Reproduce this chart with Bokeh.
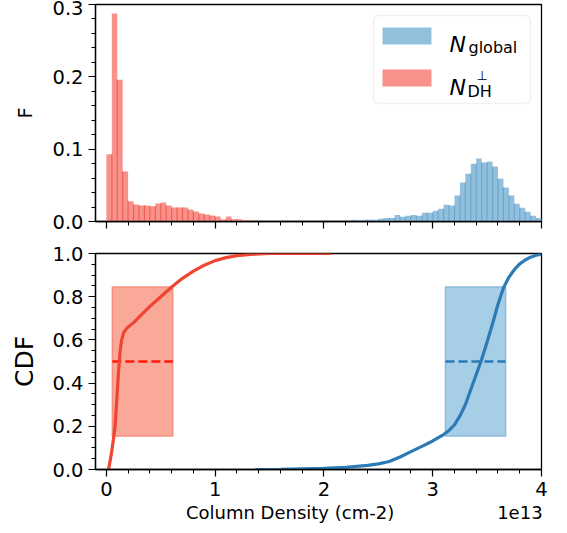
import numpy as np
from bokeh.plotting import figure
from bokeh.layouts import column
from bokeh.models import Range1d, FixedTicker, PrintfTickFormatter, Label, BoxAnnotation
from bokeh.embed import file_html
from bokeh.resources import INLINE

# ---------------- data (column density in units of 1e13 cm-2) ----------------
BIN_W = 0.05
red_start = 0.00
red_F = [0.093, 0.2875, 0.196, 0.069, 0.028, 0.0236, 0.022, 0.022, 0.021, 0.025,
         0.0264, 0.022, 0.0194, 0.0194, 0.0194, 0.0167, 0.0139, 0.011, 0.0097, 0.0083,
         0.007, 0.0028, 0.007, 0.003, 0.003, 0.0014, 0.0014, 0.0014]
blue_start = 2.15
blue_F = [0.001, 0.0014, 0.0023, 0.0014, 0.0023, 0.0023, 0.0023, 0.0037, 0.005, 0.005,
          0.009, 0.0065, 0.008, 0.009, 0.008, 0.012, 0.012, 0.015, 0.0176, 0.023,
          0.022, 0.036, 0.054, 0.066, 0.080, 0.087, 0.0815, 0.083, 0.076, 0.059,
          0.047, 0.036, 0.0245, 0.019, 0.0134, 0.008, 0.005]

red_cdf_x = [0.02, 0.045, 0.065, 0.08, 0.095, 0.11, 0.125, 0.14, 0.16, 0.19, 0.25, 0.3,
             0.4, 0.5, 0.6, 0.7, 0.8, 0.9, 1.0, 1.1, 1.2, 1.35, 1.5, 2.07]
red_cdf_y = [0.0, 0.07, 0.14, 0.2, 0.32, 0.44, 0.54, 0.6, 0.635, 0.655, 0.68, 0.705,
             0.755, 0.8, 0.845, 0.885, 0.918, 0.946, 0.967, 0.981, 0.99, 0.997, 1.0, 1.0]
blue_cdf_x = [1.37, 1.6, 1.8, 2.0, 2.2, 2.4, 2.5, 2.6, 2.7, 2.8, 2.9, 3.0, 3.1, 3.15,
              3.2, 3.25, 3.3, 3.35, 3.4, 3.45, 3.5, 3.55, 3.6, 3.65, 3.7, 3.75, 3.8,
              3.85, 3.9, 3.95, 4.0]
blue_cdf_y = [0.0, 0.001, 0.003, 0.005, 0.01, 0.019, 0.026, 0.037, 0.058, 0.083, 0.107,
              0.132, 0.162, 0.181, 0.207, 0.248, 0.3, 0.37, 0.44, 0.51, 0.59, 0.675,
              0.765, 0.84, 0.89, 0.925, 0.952, 0.97, 0.983, 0.992, 0.997]

red_range = [0.055, 0.61]      # 16th-84th percentile span of N_DH
blue_range = [3.117, 3.67]     # 16th-84th percentile span of N_global
box_q = [0.155, 0.845]
median_q = 0.5

x_ticks = [0, 1, 2, 3, 4]
f_ticks = [0.0, 0.1, 0.2, 0.3]
cdf_ticks = [0.0, 0.2, 0.4, 0.6, 0.8, 1.0]

x_title = "Column Density (cm-2)"
x_offset_text = "1e13"

# ---------------- styles ----------------
RED_FILL = "#F8918A"
RED_EDGE = "#EE5F52"
BLUE_FILL = "#91BFDC"
BLUE_EDGE = "#6AA6D0"
RED_LINE = "#EF4533"
BLUE_LINE = "#2C7BB6"
FONT = "DejaVu Sans"
TICK_FS = "19.5px"

xr = Range1d(-0.1, 4.0)


def style_axes(p):
    p.xgrid.visible = False
    p.ygrid.visible = False
    p.outline_line_color = "black"
    p.outline_line_width = 1.3
    p.background_fill_color = "white"
    p.border_fill_color = "white"
    for ax in (p.xaxis[0], p.yaxis[0]):
        ax.axis_line_width = 1.3
        ax.major_tick_out = 7
        ax.major_tick_in = 0
        ax.minor_tick_out = 4
        ax.minor_tick_in = 0
        ax.major_tick_line_width = 1.2
        ax.minor_tick_line_width = 1.0
        ax.major_label_text_font = FONT
        ax.major_label_text_font_size = TICK_FS
        ax.major_label_text_color = "black"
        ax.axis_label_text_font = FONT
        ax.axis_label_text_font_style = "normal"
        ax.axis_label_text_color = "black"
    p.xaxis.ticker = FixedTicker(ticks=x_ticks, minor_ticks=list(np.round(np.arange(0, 4.01, 0.2), 3)))
    p.xaxis.formatter = PrintfTickFormatter(format="%d")
    p.xaxis.major_label_standoff = 5


# ---------------- top panel: histograms ----------------
p1 = figure(frame_width=446, frame_height=217, x_range=xr, y_range=Range1d(0, 0.3),
            output_backend="svg", toolbar_location=None,
            min_border_left=95, min_border_right=20, min_border_top=4, min_border_bottom=16)
style_axes(p1)
p1.yaxis.ticker = FixedTicker(ticks=f_ticks, minor_ticks=list(np.round(np.arange(0, 0.301, 0.02), 3)))
p1.yaxis.formatter = PrintfTickFormatter(format="%.1f")
p1.yaxis.axis_label = "F"
p1.yaxis.axis_label_text_font_size = TICK_FS
p1.yaxis.axis_label_standoff = 12
p1.xaxis.major_label_overrides = {t: "" for t in x_ticks}
p1.xaxis.major_label_text_font_size = "1px"
p1.xaxis.major_label_standoff = 0


def hist(p, start, vals, fill, edge):
    vals = np.asarray(vals)
    left = start + BIN_W * np.arange(len(vals))
    p.quad(left=left, right=left + BIN_W, bottom=0, top=vals,
           fill_color=fill, line_color=None)
    # darker seams where neighbouring semi-transparent bar edges overlap
    xs = left[1:]
    ys = np.minimum(vals[:-1], vals[1:])
    p.segment(x0=xs, y0=np.zeros_like(ys), x1=xs, y1=ys, line_color=edge, line_width=1.2)


hist(p1, blue_start, blue_F, BLUE_FILL, BLUE_EDGE)
hist(p1, red_start, red_F, RED_FILL, RED_EDGE)


# legend drawn by hand (math-style labels); pixel helpers for the top frame
def tx(px):
    return -0.1 + (px - 95) / 446 * 4.1


def ty(py):
    return 0.3 * (221 - py) / 217


p1.add_layout(BoxAnnotation(left=tx(373), right=tx(530), top=ty(15), bottom=ty(103),
                            fill_color="white", fill_alpha=0.85, line_color="#D0D0D0",
                            line_width=1.3, border_radius=5))
p1.add_layout(BoxAnnotation(left=tx(382), right=tx(431), top=ty(27), bottom=ty(44),
                            fill_color=BLUE_FILL, fill_alpha=1, line_color=None))
p1.add_layout(BoxAnnotation(left=tx(382), right=tx(431), top=ty(69), bottom=ty(86),
                            fill_color=RED_FILL, fill_alpha=1, line_color=None))
for txt, px, py, fs, style in [("N", 449, 44, "22px", "italic"),
                               ("global", 468, 47, "16px", "normal"),
                               ("N", 449, 87, "22px", "italic"),
                               ("DH", 467, 91, "16px", "normal"),
                               ("\u22A5", 476, 75, "13px", "normal")]:
    p1.add_layout(Label(x=tx(px), y=ty(py), text=txt, text_font=FONT, text_font_size=fs,
                        text_font_style=style, text_baseline="alphabetic", text_align="left",
                        text_color="black"))

# ---------------- bottom panel: CDFs ----------------
p2 = figure(frame_width=446, frame_height=216, x_range=xr, y_range=Range1d(0, 1.0),
            output_backend="svg", toolbar_location=None,
            min_border_left=95, min_border_right=20, min_border_top=16, min_border_bottom=64)
style_axes(p2)
p2.yaxis.ticker = FixedTicker(ticks=cdf_ticks, minor_ticks=list(np.round(np.arange(0, 1.001, 0.05), 3)))
p2.yaxis.formatter = PrintfTickFormatter(format="%.1f")
p2.yaxis.axis_label = "CDF"
p2.yaxis.axis_label_text_font_size = "25px"
p2.yaxis.axis_label_standoff = 10

# x title and the 1e13 offset text share one line (padded with no-break spaces
# so the title sits left of centre and the offset text ends at the right edge)
NBSP = "\u00A0"
p2.xaxis.axis_label = NBSP * 16 + x_title + NBSP * 18 + x_offset_text
p2.xaxis.axis_label_text_font_size = "18px"
p2.xaxis.axis_label_standoff = 3

p2.quad(left=[red_range[0]], right=[red_range[1]], bottom=[box_q[0]], top=[box_q[1]],
        fill_color="#FAA898", line_color="#F58E7E", line_width=1.5)
p2.quad(left=[blue_range[0]], right=[blue_range[1]], bottom=[box_q[0]], top=[box_q[1]],
        fill_color="#A6CEE6", line_color="#8DBBDD", line_width=1.5)
p2.line(x=red_range, y=[median_q, median_q], line_color="#FF1A0A", line_width=2.5, line_dash="9 4")
p2.line(x=blue_range, y=[median_q, median_q], line_color=BLUE_LINE, line_width=2.5, line_dash="9 4")
p2.line(x=red_cdf_x, y=red_cdf_y, line_color=RED_LINE, line_width=3.2)
p2.line(x=blue_cdf_x, y=blue_cdf_y, line_color=BLUE_LINE, line_width=3.2)

layout = column(p1, p2, spacing=0)
open("out.html", "w").write(file_html(layout, INLINE))
